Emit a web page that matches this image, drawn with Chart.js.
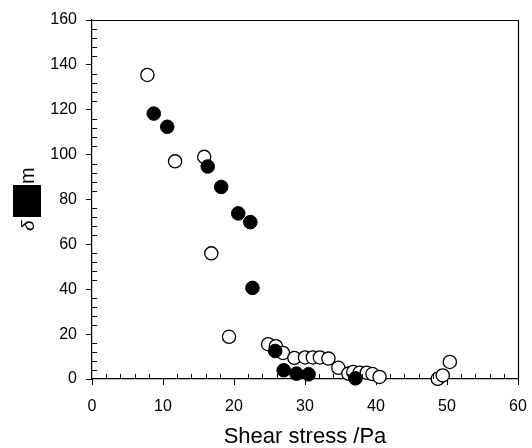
<!DOCTYPE html>
<html>
<head>
<meta charset="utf-8">
<script src="https://cdn.jsdelivr.net/npm/chart.js@4/dist/chart.umd.min.js"></script>
<style>
    html, body { margin: 0; padding: 0; background: #ffffff; }
    #wrap { width: 532px; height: 448px; }
</style>
</head>
<body>
<div id="wrap"><canvas id="chart"></canvas></div>
<script>
// Open circles (x = shear stress / Pa, y = delta)
const openX = [7.8, 11.7, 15.8, 16.8, 19.3, 24.8, 25.9, 26.9, 28.5, 30.0, 31.1, 32.1, 33.3, 34.7, 36.1, 36.8, 37.7, 38.7, 39.5, 40.5, 48.7, 49.4, 50.4];
const openY = [135.5, 97, 99, 56, 18.8, 15.5, 14.6, 11.6, 9.4, 9.6, 9.6, 9.6, 9.1, 5.0, 2.4, 3.1, 2.8, 2.8, 2.2, 0.9, 0.1, 1.6, 7.6];

// Filled circles
const filledX = [8.7, 10.6, 16.3, 18.2, 20.6, 22.3, 22.6, 25.8, 27.0, 28.8, 30.5, 37.1];
const filledY = [118.3, 112.4, 94.7, 85.6, 73.8, 69.9, 40.6, 12.5, 3.9, 2.4, 2.1, 0.3];

const xTicks = [0, 10, 20, 30, 40, 50, 60];
const yTicks = [0, 20, 40, 60, 80, 100, 120, 140, 160];
const xTitle = 'Shear stress /Pa';

const FONT = '"Liberation Sans", Arial, sans-serif';

function toPoints(xs, ys) {
    return xs.map((x, i) => ({ x: x, y: ys[i] }));
}

// Minor ticks inside the frame, top and right border
const framePlugin = {
    id: 'frame',
    afterDraw(chart) {
        const ctx = chart.ctx;
        const area = chart.chartArea;
        const xs = chart.scales.x;
        const ys = chart.scales.y;
        ctx.save();
        ctx.strokeStyle = '#000000';
        ctx.lineWidth = 1;
        ctx.beginPath();
        for (let v = 2; v < 60; v += 2) {
            if (v % 10 === 0) continue;
            const px = Math.round(xs.getPixelForValue(v)) + 0.5;
            ctx.moveTo(px, area.bottom);
            ctx.lineTo(px, area.bottom - 5);
        }
        for (let v = 4; v < 160; v += 4) {
            if (v % 20 === 0) continue;
            const py = Math.round(ys.getPixelForValue(v)) + 0.5;
            ctx.moveTo(area.left, py);
            ctx.lineTo(area.left + 5, py);
        }
        ctx.stroke();

        ctx.lineWidth = 1.2;
        ctx.beginPath();
        ctx.moveTo(area.left, area.top + 0.5);
        ctx.lineTo(area.right + 0.5, area.top + 0.5);
        ctx.lineTo(area.right + 0.5, area.bottom);
        ctx.stroke();

        // y axis title: delta, missing glyph box, m
        ctx.translate(34, 200);
        ctx.rotate(-Math.PI / 2);
        ctx.fillStyle = '#000000';
        ctx.font = 'italic 19px ' + FONT;
        ctx.textBaseline = 'alphabetic';
        ctx.textAlign = 'left';
        ctx.fillText('\u03b4', -31, 0);
        ctx.fillRect(-17, -21, 32, 28);
        ctx.font = '20px ' + FONT;
        ctx.fillText('m', 16, 0);
        ctx.restore();
    }
};

new Chart(document.getElementById('chart'), {
    type: 'scatter',
    data: {
        datasets: [
            {
                label: 'filled',
                data: toPoints(filledX, filledY),
                backgroundColor: '#000000',
                borderColor: '#000000',
                borderWidth: 1,
                pointRadius: 6.8,
                clip: false,
                order: 0
            },
            {
                label: 'open',
                data: toPoints(openX, openY),
                backgroundColor: '#ffffff',
                borderColor: '#000000',
                borderWidth: 1.3,
                pointRadius: 6.6,
                clip: false,
                order: 1
            }
        ]
    },
    options: {
        responsive: true,
        maintainAspectRatio: false,
        animation: false,
        events: [],
        layout: {
            autoPadding: false,
            padding: { top: 20, right: 14, left: 0, bottom: 0 }
        },
        plugins: {
            legend: { display: false },
            tooltip: { enabled: false }
        },
        scales: {
            x: {
                type: 'linear',
                min: 0,
                max: 60,
                afterBuildTicks: (scale) => {
                    scale.ticks = xTicks.map(v => ({ value: v }));
                },
                afterFit: (scale) => {
                    scale.height = 69;
                    scale.paddingLeft = 0;
                    scale.paddingRight = 0;
                },
                border: { display: true, color: '#000000', width: 1.2 },
                grid: {
                    drawOnChartArea: false,
                    drawTicks: true,
                    tickLength: 6,
                    tickColor: '#000000',
                    tickWidth: 1
                },
                ticks: {
                    color: '#000000',
                    padding: 12,
                    font: { family: FONT, size: 16 }
                },
                title: {
                    display: true,
                    text: xTitle,
                    color: '#000000',
                    padding: { top: 19, bottom: -2 },
                    font: { family: FONT, size: 22 }
                }
            },
            y: {
                type: 'linear',
                min: 0,
                max: 160,
                afterBuildTicks: (scale) => {
                    scale.ticks = yTicks.map(v => ({ value: v }));
                },
                afterFit: (scale) => {
                    scale.width = 92;
                },
                border: { display: true, color: '#000000', width: 1.2 },
                grid: {
                    drawOnChartArea: false,
                    drawTicks: true,
                    tickLength: 6,
                    tickColor: '#000000',
                    tickWidth: 1
                },
                ticks: {
                    color: '#000000',
                    padding: 9,
                    font: { family: FONT, size: 16 }
                }
            }
        }
    },
    plugins: [framePlugin]
});
</script>
</body>
</html>
